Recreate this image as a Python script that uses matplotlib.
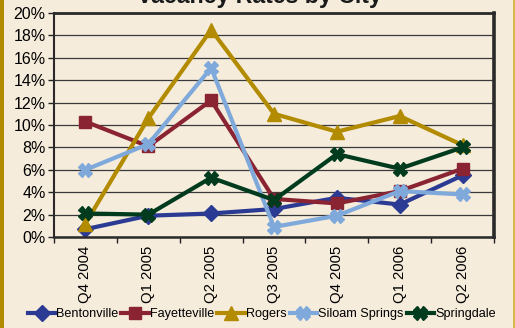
import matplotlib.pyplot as plt
from matplotlib.patches import Rectangle
from matplotlib.ticker import FuncFormatter

quarters = ["Q4 2004", "Q1 2005", "Q2 2005", "Q3 2005", "Q4 2005", "Q1 2006", "Q2 2006"]

bentonville = [0.7, 1.9, 2.1, 2.5, 3.5, 2.9, 5.5]
fayetteville = [10.3, 8.1, 12.2, 3.4, 3.0, 4.1, 6.1]
rogers = [1.2, 10.6, 18.5, 11.0, 9.4, 10.8, 8.2]
siloam = [6.0, 8.3, 15.1, 0.9, 1.9, 4.1, 3.8]
springdale = [2.1, 2.0, 5.3, 3.3, 7.4, 6.1, 8.0]

bg = "#F5ECDC"
gold = "#B38B00"

series = [
    ("Bentonville", bentonville, "#2B3A92", "D", 8),
    ("Fayetteville", fayetteville, "#8A2433", "s", 8),
    ("Rogers", rogers, gold, "^", 10),
    ("Siloam Springs", siloam, "#7FA9DB", "X", 10),
    ("Springdale", springdale, "#003B1E", "X", 10),
]

plt.rcParams['font.family'] = ['Liberation Sans', 'DejaVu Sans']

fig = plt.figure(figsize=(5.15, 3.28), dpi=100, facecolor=bg)
ax = fig.add_axes([0.1049, 0.2774, 0.8543, 0.683])
ax.set_facecolor(bg)

# gold frame strips at the edges
fig.patches.append(Rectangle((0, 0), 4 / 515, 1, transform=fig.transFigure,
                             facecolor=gold, edgecolor="none"))
fig.patches.append(Rectangle((513 / 515, 0), 1.5 / 515, 1, transform=fig.transFigure,
                             facecolor="#D9B84A", edgecolor="none"))

x = list(range(len(quarters)))
for name, vals, color, marker, ms in series:
    ax.plot(x, vals, color=color, lw=3, marker=marker, markersize=ms,
            markerfacecolor=color, markeredgecolor=color, label=name)

ax.set_xlim(-0.5, len(quarters) - 0.5)
ax.set_ylim(0, 20)
ax.set_yticks(range(0, 21, 2))
ax.yaxis.set_major_formatter(FuncFormatter(lambda v, p: f"{v:.0f}%"))
ax.yaxis.grid(True, color="#3a3a3a", lw=0.9)
ax.set_axisbelow(True)

ax.set_xticks(x)
ax.set_xticklabels(quarters, rotation=90, fontsize=10.7)
ax.set_xticks([i - 0.5 for i in range(len(quarters) + 1)], minor=True)
ax.tick_params(axis="x", which="major", length=0, pad=6)
ax.tick_params(axis="x", which="minor", length=4, width=1, color="#222")
ax.tick_params(axis="y", length=4, width=1, color="#222", labelsize=11.5, pad=2)

for side, lw in [("left", 1.5), ("bottom", 1.8), ("top", 2.0), ("right", 2.6)]:
    ax.spines[side].set_linewidth(lw)
    ax.spines[side].set_color("#2a2a2a")

fig.text(0.503, 1 - 2.5 / 328, "Vacancy Rates by City", ha="center", va="baseline",
         fontsize=16.7, fontweight="bold", color="#1a1a1a")

fig.legend(loc="center", bbox_to_anchor=(0.508, 1 - 314 / 328), ncol=5, frameon=False,
           fontsize=9.1, handlelength=2.2, handletextpad=0.05, columnspacing=0.25,
           borderaxespad=0)

fig.savefig("out.png", dpi=100, facecolor=bg)
